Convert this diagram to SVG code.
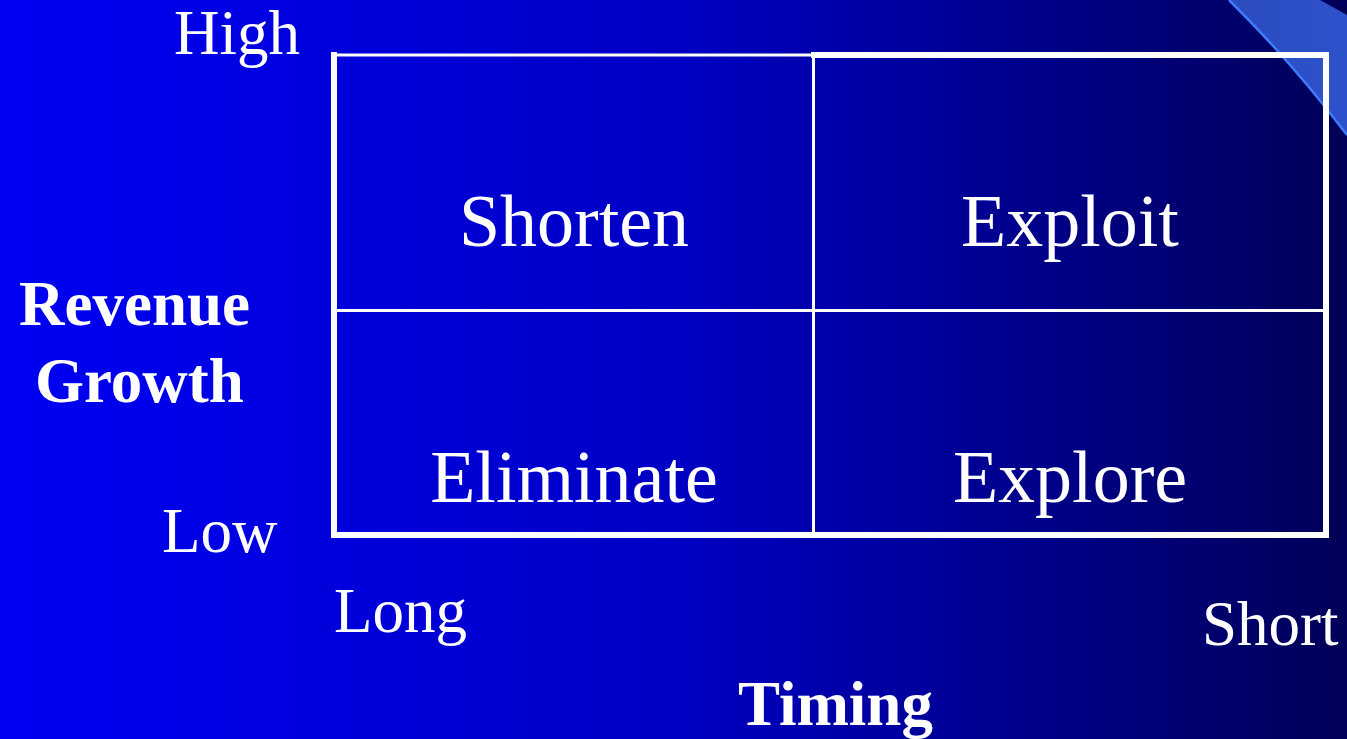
<svg xmlns="http://www.w3.org/2000/svg" width="1347" height="739" viewBox="0 0 1347 739">
<defs>
<linearGradient id="bg" x1="0" y1="0" x2="1" y2="0">
<stop offset="0" stop-color="#0000f4"/>
<stop offset="0.5" stop-color="#0000c4"/>
<stop offset="1" stop-color="#000058"/>
</linearGradient>
<linearGradient id="band" x1="0" y1="0" x2="1" y2="0">
<stop offset="0" stop-color="#2a4cbe"/>
<stop offset="1" stop-color="#2e52cc"/>
</linearGradient>
</defs>
<style>
text{font-family:"Liberation Serif","Times New Roman",serif;fill:#ffffff}
.ax{font-size:63px}
.axb{font-size:63px;font-weight:bold}
.cell{font-size:74px;text-anchor:middle}
.thick{fill:none;stroke:#ffffff;stroke-width:6}
.thin{fill:none;stroke:#ffffff;stroke-width:3}
</style>
<rect x="0" y="0" width="1347" height="739" fill="url(#bg)"/>
<g id="corner">
<path d="M1229,0 L1320,0 L1347,15 L1347,135 Q1290,60 1229,0 Z" fill="url(#band)"/>
<path d="M1229,0 Q1290,60 1347,135" fill="none" stroke="#3f7cff" stroke-width="2.5"/>
</g>
<g id="connectors">
<path class="thick" d="M334,52 L334,535 L1326,535 L1326,55 L811,55"/>
<line class="thin" x1="334" y1="55" x2="812" y2="55"/>
<line class="thin" x1="813.5" y1="55" x2="813.5" y2="535"/>
<line class="thin" x1="334" y1="310.5" x2="1326" y2="310.5"/>
</g>
<g id="cell-shorten"><text class="cell" x="574" y="246">Shorten</text></g>
<g id="cell-exploit"><text class="cell" x="1070" y="246">Exploit</text></g>
<g id="cell-eliminate"><text class="cell" x="574" y="502">Eliminate</text></g>
<g id="cell-explore"><text class="cell" x="1070" y="502">Explore</text></g>
<g id="label-high"><text class="ax" x="174" y="54">High</text></g>
<g id="label-low"><text class="ax" x="162" y="552">Low</text></g>
<g id="label-revenue"><text class="axb" x="19" y="325">Revenue</text><text class="axb" x="35" y="402">Growth</text></g>
<g id="label-long"><text class="ax" x="334" y="632">Long</text></g>
<g id="label-short"><text class="ax" x="1202" y="645">Short</text></g>
<g id="label-timing"><text class="axb" x="738" y="725">Timing</text></g>
</svg>
